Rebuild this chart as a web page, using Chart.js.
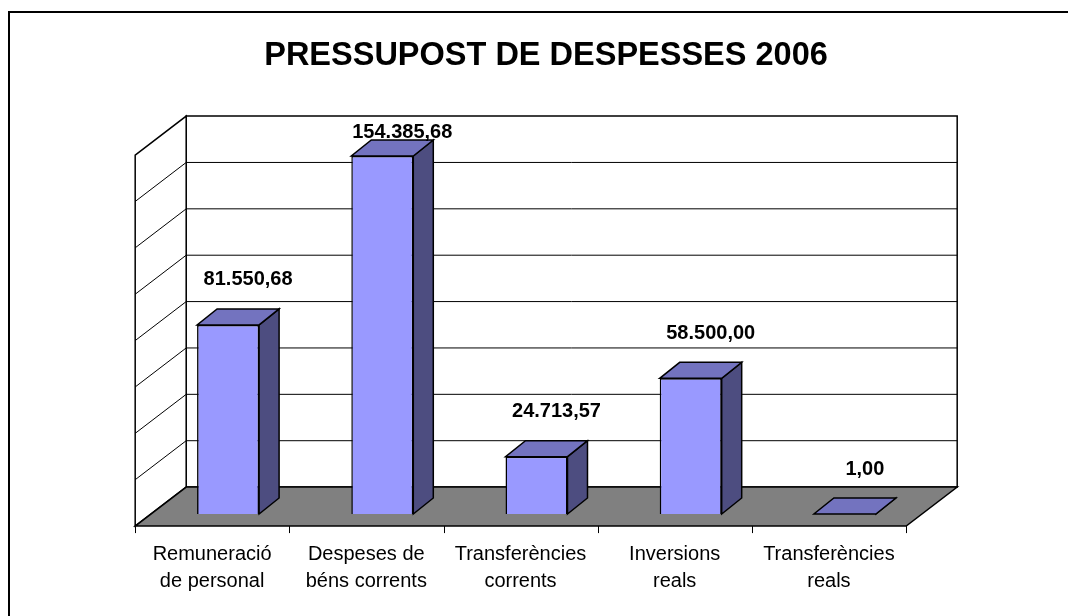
<!DOCTYPE html>
<html>
<head>
<meta charset="utf-8">
<script src="https://cdn.jsdelivr.net/npm/chart.js@4/dist/chart.umd.min.js"></script>
<style>
  html, body { margin: 0; padding: 0; background: #fff; }
  #frame { position: absolute; left: 8px; top: 11px; width: 1200px; height: 700px;
           border-left: 2px solid #000; border-top: 2px solid #000; box-sizing: border-box; }
  #wrap { position: absolute; left: 0; top: 0; width: 1068px; height: 616px; }
</style>
</head>
<body>
<div id="frame"></div>
<div id="wrap"><canvas id="chart" width="1068" height="616"></canvas></div>
<script>
const title = "PRESSUPOST DE DESPESSES 2006";
const categories = [
    ["Remuneració", "de personal"],
    ["Despeses de", "béns corrents"],
    ["Transferències", "corrents"],
    ["Inversions", "reals"],
    ["Transferències", "reals"]
];
const values = [81550.68, 154385.68, 24713.57, 58500.00, 1.00];
const yTicks = [0, 20000, 40000, 60000, 80000, 100000, 120000, 140000, 160000];

// 3D look: depth vector of the whole floor, and where the bars sit in it
const DEPTH = { x: 51, y: -39 };
const BAR_AT = 0.31;
const BAR_DEPTH = { x: 20, y: -16 };

function formatValue(v) {
    const parts = v.toFixed(2).split(".");
    parts[0] = parts[0].replace(/\B(?=(\d{3})+(?!\d))/g, ".");
    return parts[0] + "," + parts[1];
}

function poly(ctx, pts, fill, stroke, lw) {
    ctx.beginPath();
    ctx.moveTo(pts[0][0], pts[0][1]);
    for (let i = 1; i < pts.length; i++) ctx.lineTo(pts[i][0], pts[i][1]);
    ctx.closePath();
    if (fill) { ctx.fillStyle = fill; ctx.fill(); }
    if (stroke) { ctx.strokeStyle = stroke; ctx.lineWidth = lw || 1; ctx.stroke(); }
}

const box3d = {
    id: "box3d",
    beforeDatasetsDraw(chart) {
        const ctx = chart.ctx;
        const area = chart.chartArea;
        const y = chart.scales.y;
        const x = chart.scales.x;
        const fx = -BAR_AT * DEPTH.x, fy = -BAR_AT * DEPTH.y;           // to front plane
        const bx = (1 - BAR_AT) * DEPTH.x, by = (1 - BAR_AT) * DEPTH.y; // to back plane
        const top = y.getPixelForValue(yTicks[yTicks.length - 1]);
        const base = y.getPixelForValue(0);
        ctx.save();

        // title
        ctx.fillStyle = "#000";
        ctx.font = "bold 32.5px 'Liberation Sans', Arial, sans-serif";
        ctx.textAlign = "center";
        ctx.textBaseline = "middle";
        ctx.fillText(title, 546, 56);

        // back wall
        poly(ctx, [[area.left + bx, top + by], [area.right + bx, top + by],
                   [area.right + bx, base + by], [area.left + bx, base + by]], "#fff", "#000", 1.5);
        // left wall
        poly(ctx, [[area.left + fx, top + fy], [area.left + bx, top + by],
                   [area.left + bx, base + by], [area.left + fx, base + fy]], "#fff", "#000", 1.5);
        // gridlines
        ctx.strokeStyle = "#000";
        ctx.lineWidth = 1;
        yTicks.slice(1, -1).forEach(v => {
            const py = y.getPixelForValue(v);
            ctx.beginPath();
            ctx.moveTo(area.left + fx, py + fy);
            ctx.lineTo(area.left + bx, py + by);
            ctx.lineTo(area.right + bx, py + by);
            ctx.stroke();
        });
        // floor
        poly(ctx, [[area.left + fx, base + fy], [area.right + fx, base + fy],
                   [area.right + bx, base + by], [area.left + bx, base + by]], "#808080", "#000", 1.5);
        // category ticks on the front edge
        const step = x.width / categories.length;
        ctx.lineWidth = 1;
        for (let i = 0; i <= categories.length; i++) {
            const px = Math.round(x.left + i * step + fx) + 0.5;
            ctx.beginPath();
            ctx.moveTo(px, base + fy);
            ctx.lineTo(px, base + fy + 7);
            ctx.stroke();
        }

        // bar tops and sides
        chart.getDatasetMeta(0).data.forEach(bar => {
            const l = bar.x - bar.width / 2, r = bar.x + bar.width / 2;
            const t = bar.y, b = bar.base;
            poly(ctx, [[r, t], [r + BAR_DEPTH.x, t + BAR_DEPTH.y],
                       [r + BAR_DEPTH.x, b + BAR_DEPTH.y], [r, b]], "#4d4d80", "#000", 1.5);
            poly(ctx, [[l, t], [r, t], [r + BAR_DEPTH.x, t + BAR_DEPTH.y],
                       [l + BAR_DEPTH.x, t + BAR_DEPTH.y]], "#7373bf", "#000", 1.5);
        });
        ctx.restore();
    },
    afterDatasetsDraw(chart) {
        const ctx = chart.ctx;
        const y = chart.scales.y;
        const backTop = y.getPixelForValue(yTicks[yTicks.length - 1]) + (1 - BAR_AT) * DEPTH.y;
        ctx.save();
        ctx.fillStyle = "#000";
        ctx.font = "bold 20px 'Liberation Sans', Arial, sans-serif";
        ctx.textAlign = "center";
        ctx.textBaseline = "middle";
        chart.getDatasetMeta(0).data.forEach((bar, i) => {
            const ly = Math.max(bar.y + BAR_DEPTH.y - 29, backTop + 16);
            ctx.fillText(formatValue(values[i]), bar.x + 20, ly);
        });
        ctx.restore();
    }
};

new Chart(document.getElementById("chart"), {
    type: "bar",
    data: {
        labels: categories,
        datasets: [{
            data: values,
            backgroundColor: "#9999ff",
            borderColor: "#000",
            borderWidth: 1.5,
            barPercentage: 0.402,
            categoryPercentage: 1
        }]
    },
    options: {
        responsive: false,
        animation: false,
        devicePixelRatio: 1,
        layout: { padding: { left: 151, right: 146, top: 143, bottom: -6 } },
        plugins: {
            legend: { display: false },
            tooltip: { enabled: false },
            title: { display: false }
        },
        scales: {
            x: {
                grid: { display: false, drawTicks: false },
                border: { display: false },
                ticks: {
                    color: "#000",
                    font: { family: "'Liberation Sans', Arial, sans-serif", size: 20, lineHeight: 1.35 },
                    padding: 27,
                    labelOffset: -16,
                    maxRotation: 0,
                    autoSkip: false
                }
            },
            y: {
                display: false,
                min: 0,
                max: 160000,
                ticks: { stepSize: 20000 }
            }
        }
    },
    plugins: [box3d]
});
</script>
</body>
</html>
